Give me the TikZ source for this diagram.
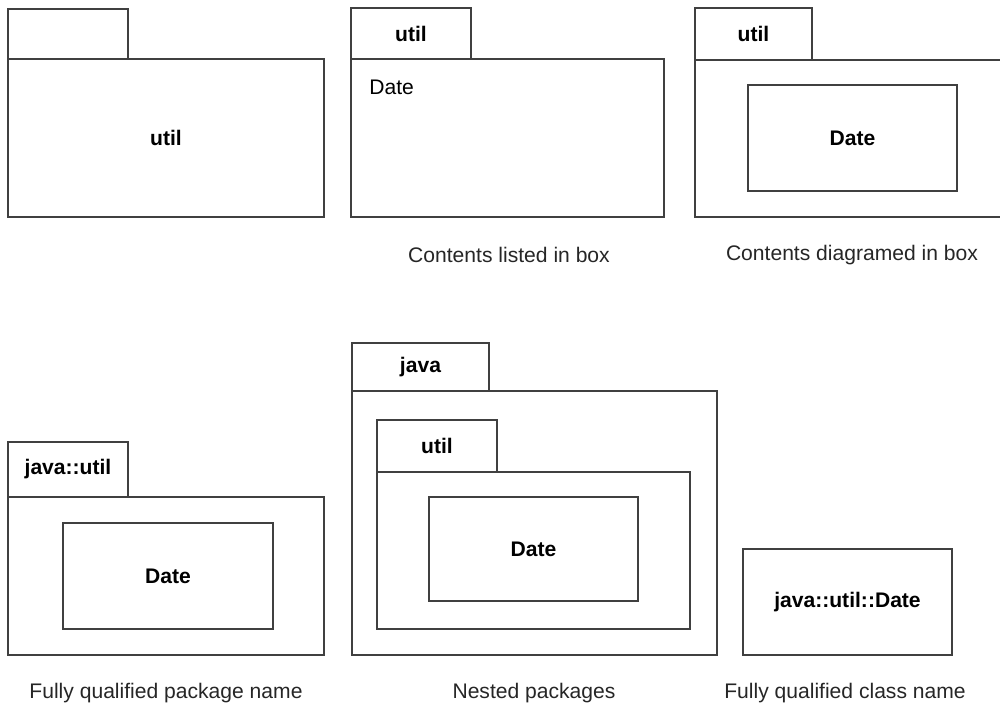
\documentclass[tikz,border=0pt]{standalone}
\usepackage{fontspec}
\setmainfont{Liberation Sans}
\usepackage{tikz}
\usetikzlibrary{positioning}

\begin{document}
\begin{tikzpicture}[
        x=0.02cm, y=-0.02cm,
        font=\fontsize{12}{14.4}\selectfont,
        % Define the styles for package tabs, bodies and classes
        pkgtab/.style={
            rectangle, draw=black!75, line width=1pt,
            minimum width=2.4cm, minimum height=1.02cm,
            inner sep=0pt, font=\fontsize{12}{14.4}\selectfont\bfseries
        },
        pkgbody/.style={
            rectangle, draw=black!75, line width=1pt,
            minimum width=6.32cm, minimum height=3.16cm,
            inner sep=0pt, font=\fontsize{12}{14.4}\selectfont\bfseries
        },
        classbox/.style={
            rectangle, draw=black!75, line width=1pt,
            minimum width=4.18cm, minimum height=2.12cm,
            inner sep=0pt, font=\fontsize{12}{14.4}\selectfont\bfseries
        },
        caption/.style={inner sep=0pt, text=black!85}
    ]

        \useasboundingbox (0,0) rectangle (1000,707);

        % ==========================
        % TOP ROW
        % ==========================
        % Plain package
        \node[pkgtab, minimum height=1.0cm] (tabA) at (68, 34) {};
        \node[pkgbody] (pkgA) at (166, 138) {util};

        % Contents listed in box
        \node[pkgtab] (tabB) at (411, 33.5) {util};
        \node[pkgbody, minimum width=6.26cm] (pkgB) at (507.5, 138) {};
        \node[anchor=west, inner sep=0pt] (listB) at (369, 87) {Date};
        \node[caption] (capB) at (509, 255) {Contents listed in box};

        % Contents diagramed in box
        \node[pkgtab, minimum width=2.34cm, minimum height=1.04cm] (tabC) at (753.5, 34) {util};
        \node[pkgbody, minimum width=6.2cm, minimum height=3.14cm] (pkgC) at (850, 138.5) {};
        \node[classbox] (dateC) at (852.5, 138) {Date};
        \node[caption] (capC) at (852, 255) {Contents diagramed in box};

        % ==========================
        % BOTTOM ROW
        % ==========================
        % Fully qualified package name
        \node[pkgtab, minimum height=1.1cm] (tabD) at (68, 469.5) {java::util};
        \node[pkgbody] (pkgD) at (166, 576) {};
        \node[classbox, minimum width=4.2cm] (dateD) at (168, 576) {Date};
        \node[caption] (capD) at (166, 693) {Fully qualified package name};

        % Nested packages
        \node[pkgtab, minimum width=2.74cm, minimum height=0.96cm] (tabJava) at (420.5, 367) {java};
        \node[pkgbody, minimum width=7.3cm, minimum height=5.28cm] (pkgJava) at (534.5, 523) {};
        \node[pkgtab, minimum height=1.04cm] (tabUtil) at (437, 446) {util};
        \node[pkgbody, minimum width=6.26cm, minimum height=3.14cm] (pkgUtil) at (533.5, 550.5) {};
        \node[classbox, minimum height=2.08cm] (dateE) at (533.5, 549) {Date};
        \node[caption] (capE) at (534, 693) {Nested packages};

        % Fully qualified class name
        \node[classbox] (dateF) at (847.5, 602) {java::util::Date};
        \node[caption] (capF) at (845, 693) {Fully qualified class name};

    \end{tikzpicture}
\end{document}
